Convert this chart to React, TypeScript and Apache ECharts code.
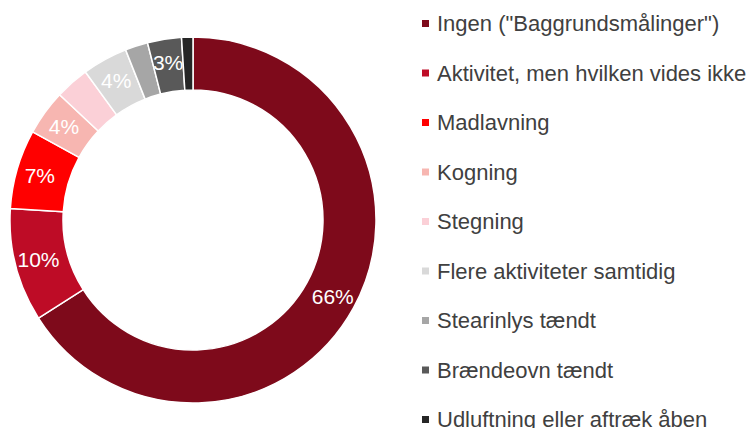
import React, { useEffect, useRef } from "react";
import * as echarts from "echarts";

const categories = [
  'Ingen ("Baggrundsmålinger")',
  "Aktivitet, men hvilken vides ikke",
  "Madlavning",
  "Kogning",
  "Stegning",
  "Flere aktiviteter samtidig",
  "Stearinlys tændt",
  "Brændeovn tændt",
  "Udluftning eller aftræk åben",
];
const values = [66, 10, 7, 4, 3, 4, 2, 3, 1];
const showLabel = [true, true, true, true, false, true, false, true, false];
const colors = [
  "#7E0A1B",
  "#BE0C26",
  "#FF0000",
  "#F7B6B1",
  "#FBD0D7",
  "#D9D9D9",
  "#A6A6A6",
  "#595959",
  "#262626",
];

export default function App() {
  const ref = useRef<HTMLDivElement>(null);
  useEffect(() => {
    if (!ref.current) return;
    const chart = echarts.init(ref.current, undefined, { renderer: "svg" });
    chart.setOption({
      animation: false,
      color: colors,
      legend: {
        orient: "vertical",
        left: 420,
        top: 12.5,
        height: 600,
        padding: 0,
        icon: "rect",
        itemWidth: 9,
        itemHeight: 9,
        itemGap: 27.5,
        textStyle: {
          fontFamily: "Liberation Sans, Arial, sans-serif",
          fontSize: 22,
          lineHeight: 22,
          color: "#404040",
          padding: [0, 0, 0, 2],
        },
        data: categories,
      },
      series: [
        {
          type: "pie",
          center: [193, 220],
          radius: [130, 183],
          startAngle: 90,
          clockwise: true,
          avoidLabelOverlap: false,
          itemStyle: { borderColor: "#ffffff", borderWidth: 1.5 },
          label: {
            show: true,
            position: "inside",
            formatter: "{c}%",
            color: "#ffffff",
            fontFamily: "Liberation Sans, Arial, sans-serif",
            fontSize: 21,
          },
          labelLine: { show: false },
          emphasis: { disabled: true },
          data: categories.map((name, i) => ({
            name,
            value: values[i],
            label: { show: showLabel[i] },
          })),
        },
      ],
    });
    return () => chart.dispose();
  }, []);
  return <div ref={ref} style={{ width: 750, height: 428, position: "absolute", left: 0, top: 0 }} />;
}
